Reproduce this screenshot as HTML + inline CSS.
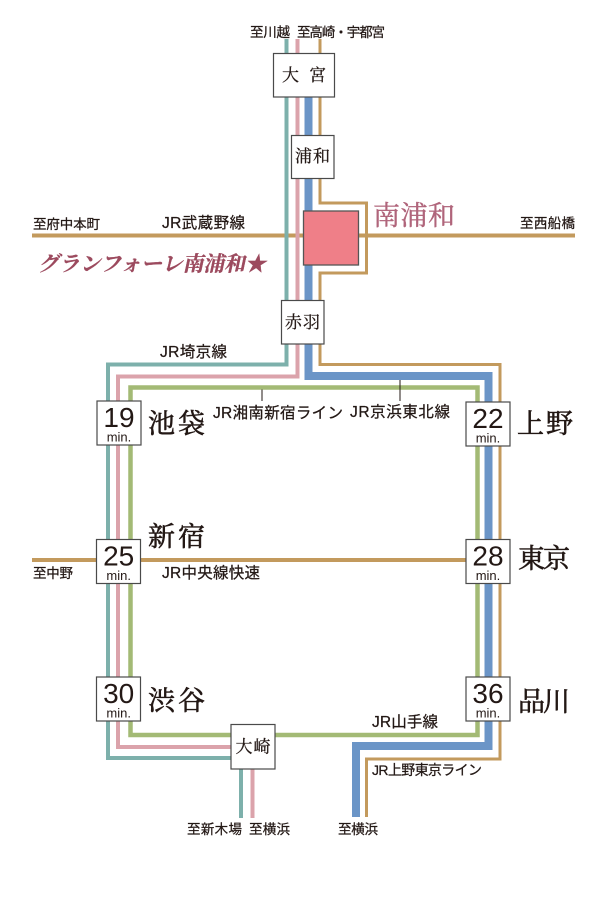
<!DOCTYPE html>
<html>
<head>
<meta charset="utf-8">
<style>
html,body{margin:0;padding:0;background:#fff;}
svg{display:block;}
.s{font-family:"Liberation Sans","Noto Sans CJK JP",sans-serif;font-size:13.5px;fill:#231815;stroke:#231815;stroke-width:0.25px;}
.j{font-size:15.5px;}
.k{font-size:14px;}
.m{font-family:"Liberation Serif","Noto Serif CJK SC",serif;fill:#231815;}
.b{stroke:#231815;stroke-width:0.6px;}
.n{font-family:"Liberation Sans","Noto Sans CJK JP",sans-serif;fill:#231815;}
</style>
</head>
<body>
<svg width="610" height="913" viewBox="0 0 610 913" xmlns="http://www.w3.org/2000/svg">
<rect width="610" height="913" fill="#fff"/>

<g fill="none" stroke-linejoin="miter" stroke-linecap="butt">
  <line x1="32" y1="235.5" x2="575" y2="235.5" stroke="#c39a5d" stroke-width="4"/>
  <line x1="32" y1="560" x2="480" y2="560" stroke="#c39a5d" stroke-width="4"/>
  <rect x="130.5" y="387.5" width="347" height="347.5" stroke="#a3ba75" stroke-width="4.5"/>
  <polyline points="286.5,39 286.5,364.5 108,364.5 108,758 241,758 241,818" stroke="#7db0ab" stroke-width="4"/>
  <polyline points="297.5,39 297.5,376.5 118,376.5 118,747 252.5,747 252.5,818" stroke="#dba3ab" stroke-width="4"/>
  <polyline points="308.5,97 308.5,376 488.5,376 488.5,746 356,746 356,817" stroke="#6b95c7" stroke-width="8"/>
  <polyline points="320,39 320,203 366.5,203 366.5,273 320,273 320,364.5 500,364.5 500,759 366.5,759 366.5,817" stroke="#c39a5d" stroke-width="3"/>
  <line x1="262" y1="389.5" x2="262" y2="401" stroke="#231815" stroke-width="1"/>
  <line x1="400" y1="380" x2="400" y2="401" stroke="#231815" stroke-width="1"/>
</g>

<g fill="#fff" stroke="#4a4a4a" stroke-width="1.2">
  <rect x="273.5" y="53.5" width="61" height="43.5"/>
  <rect x="291.5" y="135.5" width="42.5" height="43"/>
  <rect x="281.5" y="300.5" width="42.5" height="43.5"/>
  <rect x="231" y="724.5" width="44" height="44.5"/>
  <rect x="97" y="401" width="44" height="44"/>
  <rect x="466" y="402" width="44" height="44"/>
  <rect x="96.5" y="539.5" width="44" height="44"/>
  <rect x="466" y="539.5" width="44" height="44"/>
  <rect x="96.5" y="677" width="44" height="44"/>
  <rect x="466" y="677" width="44" height="44"/>
</g>
<rect x="303.5" y="211" width="55" height="54" fill="#ef7f88" stroke="#555" stroke-width="1.3"/>

<text class="m b" x="282" y="81" font-size="17" textLength="44" style="stroke-width:0.3px">大　宮</text>
<text class="m b" x="295" y="162" font-size="17" textLength="35" style="stroke-width:0.3px">浦和</text>
<text class="m b" x="285" y="328" font-size="17" textLength="35" style="stroke-width:0.3px">赤羽</text>
<text class="m b" x="235.5" y="752.5" font-size="17" textLength="35" style="stroke-width:0.3px">大崎</text>

<g class="n" text-anchor="middle">
  <text x="119" y="427" font-size="28">19</text>
  <text x="119" y="441.5" font-size="13">min.</text>
  <text x="488" y="428" font-size="28">22</text>
  <text x="488" y="442.5" font-size="13">min.</text>
  <text x="118.7" y="565.5" font-size="28">25</text>
  <text x="118.7" y="580" font-size="13">min.</text>
  <text x="488" y="565.5" font-size="28">28</text>
  <text x="488" y="580" font-size="13">min.</text>
  <text x="118.7" y="703" font-size="28">30</text>
  <text x="118.7" y="717.5" font-size="13">min.</text>
  <text x="488" y="703" font-size="28">36</text>
  <text x="488" y="717.5" font-size="13">min.</text>
</g>

<text class="m b" x="148" y="433" font-size="27" textLength="57">池袋</text>
<text class="m b" x="517" y="433" font-size="27" textLength="56">上野</text>
<text class="m b" x="148" y="546" font-size="27" textLength="57">新宿</text>
<text class="m b" x="518" y="568" font-size="27" textLength="52">東京</text>
<text class="m b" x="148" y="710" font-size="27" textLength="57">渋谷</text>
<text class="m b" x="518" y="711" font-size="27" textLength="52">品川</text>
<text class="m" x="373" y="225" font-size="27" textLength="82" style="fill:#b0657b;stroke:#b0657b;stroke-width:0.4px">南浦和</text>

<g transform="translate(38,271) skewX(-12)">
  <text x="0" y="0" font-family="'Liberation Serif','Noto Serif CJK SC',serif" font-size="21" font-weight="bold" fill="#9c4a5e" stroke="#9c4a5e" stroke-width="0.3" textLength="228">グランフォーレ南浦和★</text>
</g>

<text class="s" x="250" y="37" textLength="40">至川越</text>
<text class="s" x="297" y="37" textLength="88">至高崎・宇都宮</text>
<text class="s" x="33" y="229" textLength="67">至府中本町</text>
<text class="s j" x="162" y="228" textLength="83">JR武蔵野線</text>
<text class="s" x="520" y="228" textLength="55">至西船橋</text>
<text class="s j" x="160" y="357" textLength="67">JR埼京線</text>
<text class="s j" x="213" y="418" textLength="130">JR湘南新宿ライン</text>
<text class="s j" x="350" y="417" textLength="100">JR京浜東北線</text>
<text class="s" x="33" y="578" textLength="40">至中野</text>
<text class="s j" x="162" y="578" textLength="98">JR中央線快速</text>
<text class="s j" x="372" y="727" textLength="66">JR山手線</text>
<text class="s k" x="372" y="775" textLength="110">JR上野東京ライン</text>
<text class="s" x="187" y="834" textLength="55">至新木場</text>
<text class="s" x="249" y="834" textLength="41">至横浜</text>
<text class="s" x="338" y="834" textLength="40">至横浜</text>
</svg>
</body>
</html>
